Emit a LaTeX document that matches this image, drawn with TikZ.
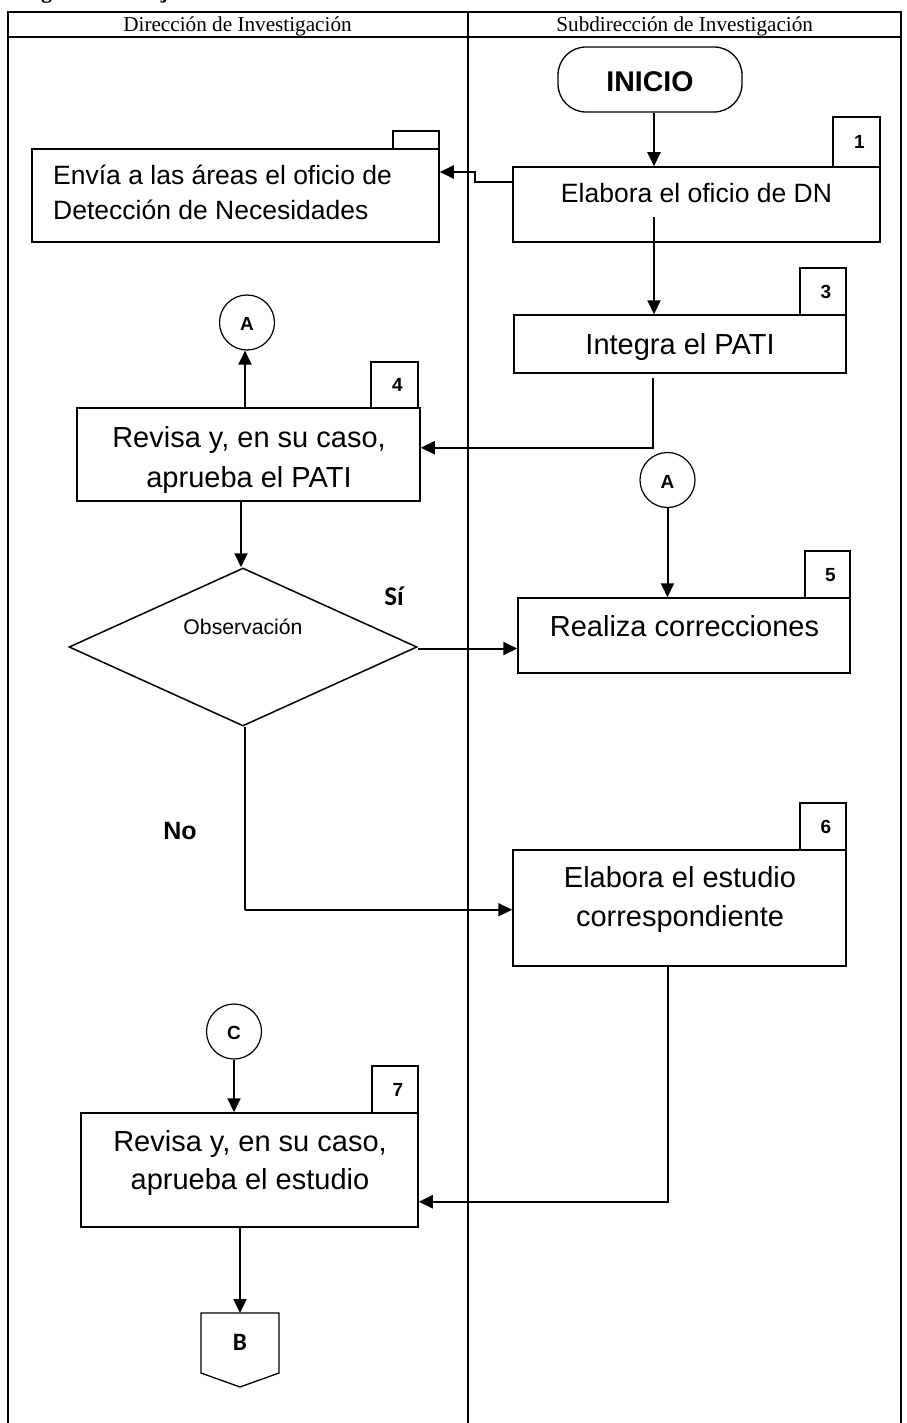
\documentclass[tikz,border=0pt]{standalone}
\usepackage{fontspec}
\setmainfont{Liberation Sans}
\newfontfamily\serifx{Liberation Serif}
\newfontfamily\calib{Carlito}
\usetikzlibrary{arrows.meta,shapes.geometric,calc}
\begin{document}
\begin{tikzpicture}[x=1pt,y=-1pt,
  tbl/.style={line width=2pt},
  boxs/.style={draw, line width=1.5pt, rectangle, inner sep=0pt},
  tabs/.style={draw, line width=1.3pt, rectangle, inner sep=0pt,
    font=\fontsize{19}{22}\selectfont\bfseries, text height=13.6pt, text depth=0pt},
  circ/.style={draw, circle, line width=1.2pt, inner sep=0pt, minimum size=55pt,
    font=\fontsize{19}{22}\selectfont\bfseries, text height=16pt, text depth=0pt},
  conn/.style={line width=2pt, -{Triangle[length=14pt,width=13pt]}},
  txa/.style={inner sep=0pt, anchor=base, font=\fontsize{26.5}{32}\selectfont},
  txb/.style={inner sep=0pt, anchor=base, font=\fontsize{29}{35}\selectfont},
  hdr/.style={inner sep=0pt, anchor=base, font=\serifx\fontsize{21.2}{25}\selectfont},
  lab/.style={inner sep=0pt, anchor=base}
]
\useasboundingbox (0,0) rectangle (906,1423);

% cut-off title (only its lowest part shows at the top edge)
\node[inner sep=0pt, anchor=base west, font=\serifx\bfseries\fontsize{22}{26}\selectfont] (ttl) at (8,-1.5) {Diagrama de flujo};

% table
\draw[tbl] (8,1425) -- (8,12) -- (901,12) -- (901,1425);
\draw[tbl] (8,37) -- (901,37);
\draw[tbl] (468,12) -- (468,1425);
\node[hdr] (h1) at (237.5,31.7) {Dirección de Investigación};
\node[hdr] (h2) at (684.7,31.7) {Subdirección de Investigación};

% INICIO
\node[draw, line width=1.3pt, rectangle, rounded corners=28pt, minimum width=184pt, minimum height=65pt,
  inner sep=0pt, font=\fontsize{28.5}{32}\selectfont\bfseries, text height=24.4pt, text depth=0pt]
  (inicio) at (650,79.5) {INICIO};

% tabs
\node[tabs, minimum width=46pt, minimum height=18pt] (tabE) at (416,140) {};
\node[tabs, minimum width=47pt, minimum height=50pt] (tab1) at (856.5,142) {\kern6pt 1};
\node[tabs, minimum width=46pt, minimum height=47pt] (tab3) at (823,291.5) {\kern6pt 3};
\node[tabs, minimum width=47pt, minimum height=46pt] (tab4) at (394.5,385) {\kern6pt 4};
\node[tabs, minimum width=45pt, minimum height=47pt] (tab5) at (827.5,574.5) {\kern6pt 5};
\node[tabs, minimum width=46pt, minimum height=47pt] (tab6) at (823,826.5) {\kern6pt 6};
\node[tabs, minimum width=46pt, minimum height=47pt] (tab7) at (395,1089.5) {\kern6pt 7};

% boxes
\node[boxs, minimum width=407pt, minimum height=93pt] (env) at (235.5,195.5) {};
\node[boxs, minimum width=367pt, minimum height=75pt] (b1) at (696.5,204.5) {};
\node[boxs, minimum width=332pt, minimum height=58pt] (b3) at (680,344) {};
\node[boxs, minimum width=343pt, minimum height=93pt] (b4) at (248.5,454.5) {};
\node[boxs, minimum width=332pt, minimum height=75pt] (b5) at (684,635.5) {};
\node[boxs, minimum width=333pt, minimum height=116pt] (b6) at (679.5,908) {};
\node[boxs, minimum width=337pt, minimum height=114pt] (b7) at (249.5,1170) {};

% box texts
\node[txa, anchor=base west] (tenv1) at (53,185) {Envía a las áreas el oficio de};
\node[txa, anchor=base west] (tenv2) at (53,220) {Detección de Necesidades};
\node[txa] (tb1) at (696.5,202.3) {Elabora el oficio de DN};
\node[txb] (tb3) at (680,354) {Integra el PATI};
\node[txb] (tb4a) at (249,447) {Revisa y, en su caso,};
\node[txb] (tb4b) at (249,487) {aprueba el PATI};
\node[txb] (tb5) at (684.5,636) {Realiza correcciones};
\node[txb] (tb6a) at (680,887.5) {Elabora el estudio};
\node[txb] (tb6b) at (680,926.5) {correspondiente};
\node[txb] (tb7a) at (250,1151) {Revisa y, en su caso,};
\node[txb] (tb7b) at (250,1189.5) {aprueba el estudio};

% connectors (circles)
\node[circ] (aL) at (247,322.5) {A};
\node[circ] (aR) at (667.5,480) {A};
\node[circ] (cC) at (234,1031.5) {C};

% decision
\node[draw, diamond, line width=1.5pt, minimum width=348pt, minimum height=158pt, inner sep=0pt] (dia) at (243,647) {};
\node[lab, font=\fontsize{21.2}{25}\selectfont] (tobs) at (243,634) {Observación};
\node[lab, font=\calib\bfseries\fontsize{27}{30}\selectfont] (si) at (394,605) {Sí};
\node[lab, font=\bfseries\fontsize{25}{30}\selectfont] (no) at (180,839.3) {No};

% off-page connector B
\draw[line width=1.3pt, line join=miter] (201,1313) -- (279,1313) -- (279,1373) -- (240,1387) -- (201,1373) -- cycle;
\coordinate (Btop) at (240,1313);
\node[lab, font=\calib\bfseries\fontsize{25}{30}\selectfont] (Bl) at (240,1350.7) {B};

% arrows
\coordinate (p1) at ($(inicio.south)+(4,0)$);
\draw[conn] (p1) -- (p1 |- b1.north);
\draw[conn] ($(b1.west)+(0,-22.5)$) -- ++(-37,0) -- ++(0,-10) coordinate (p3) -- (p3 -| env.east);
\draw[conn] ($(b1.south)+(-42.5,-26)$) coordinate (p4) -- (p4 |- b3.north);
\draw[conn] ($(b3.south)+(-27,4)$) -- ++(0,70) coordinate (p6) -- (p6 -| b4.east);
\draw[conn] ($(b4.north)+(-3.5,0)$) coordinate (p7) -- (p7 |- aL.south);
\draw[conn] (aR.south) -- (aR.south |- b5.north);
\draw[conn] ($(b4.south)+(-7.5,0)$) coordinate (p8) -- (p8 |- dia.north);
\draw[conn] ($(dia.east)+(0,1.5)$) coordinate (p9) -- (p9 -| b5.west);
\draw[line width=2pt] ($(dia.south)+(1.5,0)$) -- ++(0,183) coordinate (p10);
\draw[conn] (p10) -- (p10 -| b6.west);
\draw[conn] ($(b6.south)+(-11.5,0)$) -- ++(0,235) coordinate (p11) -- (p11 -| b7.east);
\draw[conn] (cC.south) -- (cC.south |- b7.north);
\draw[conn] ($(b7.south)+(-9.5,0)$) coordinate (p12) -- (p12 |- Btop);
\end{tikzpicture}
\end{document}
